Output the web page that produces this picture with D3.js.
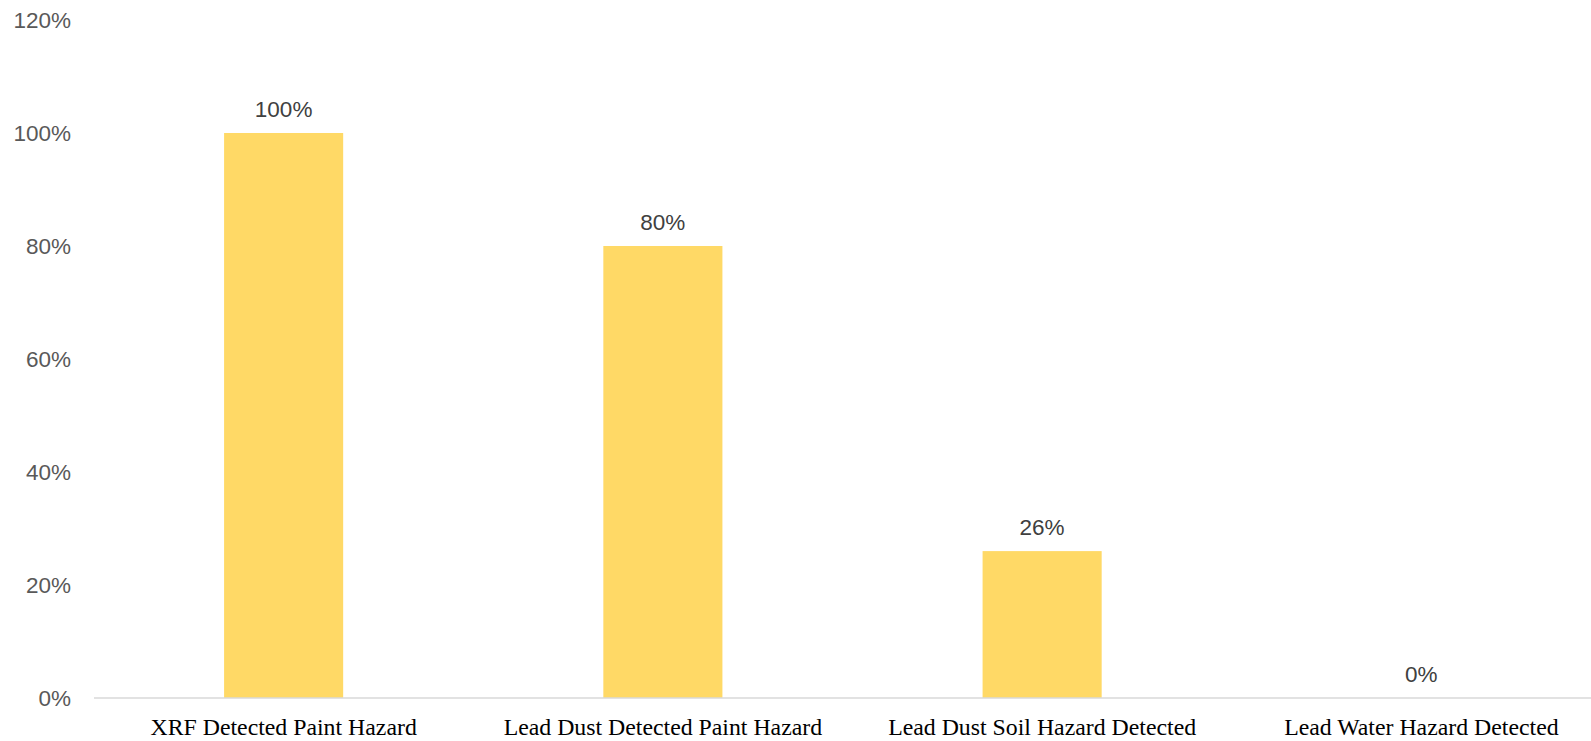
<!DOCTYPE html>
<html>
<head>
<meta charset="utf-8">
<script src="https://cdn.jsdelivr.net/npm/d3@7/dist/d3.min.js"></script>
<style>
  html, body { margin: 0; padding: 0; background: #fff; }
  svg { display: block; }
</style>
</head>
<body>
<svg id="chart" width="1591" height="741"></svg>
<script>
const categories = [
  "XRF Detected Paint Hazard",
  "Lead Dust Detected Paint Hazard",
  "Lead Dust Soil Hazard Detected",
  "Lead Water Hazard Detected"
];
const values = [1.00, 0.80, 0.26, 0.00];
const valueLabels = ["100%", "80%", "26%", "0%"];
const yTicks = [0, 0.2, 0.4, 0.6, 0.8, 1.0, 1.2];

const svg = d3.select("#chart");
const W = 1591, H = 741;

const x = d3.scaleBand()
  .domain(categories)
  .range([94, 1611])
  .paddingInner(0.686)
  .paddingOuter(0.343);

const y = d3.scaleLinear().domain([0, 1.2]).range([698, 20]);

// y tick labels
const yAxis = d3.axisLeft(y)
  .tickValues(yTicks)
  .tickFormat(d3.format(".0%"))
  .tickSize(0)
  .tickPadding(0);
const yg = svg.append("g").attr("transform", "translate(71,0)").call(yAxis);
yg.select(".domain").remove();
yg.selectAll("text")
  .attr("fill", "#595959")
  .attr("font-family", "'Liberation Sans', Arial, sans-serif")
  .attr("font-size", "22.5px")
  .attr("dy", "0.35em");

// bars
svg.append("g").selectAll("rect")
  .data(values)
  .join("rect")
  .attr("x", (d, i) => x(categories[i]))
  .attr("width", x.bandwidth())
  .attr("y", d => y(d))
  .attr("height", d => y(0) - y(d))
  .attr("fill", "#FFD966");

// x axis line
svg.append("line")
  .attr("x1", 94).attr("x2", W)
  .attr("y1", y(0)).attr("y2", y(0))
  .attr("stroke", "#D9D9D9")
  .attr("stroke-width", 1.5);

// category labels
const xAxis = d3.axisBottom(x).tickSize(0).tickPadding(0);
const xg = svg.append("g").attr("transform", `translate(0,${y(0)})`).call(xAxis);
xg.select(".domain").remove();
xg.selectAll("text")
  .attr("fill", "#000")
  .attr("font-family", "'Liberation Serif', 'Times New Roman', serif")
  .attr("font-size", "23.8px")
  .attr("y", 37)
  .attr("dy", 0);

// data labels
svg.append("g").selectAll("text")
  .data(values)
  .join("text")
  .attr("x", (d, i) => x(categories[i]) + x.bandwidth() / 2)
  .attr("y", d => y(d) - 16)
  .attr("text-anchor", "middle")
  .attr("fill", "#404040")
  .attr("font-family", "'Liberation Sans', Arial, sans-serif")
  .attr("font-size", "22.5px")
  .text((d, i) => valueLabels[i]);
</script>
</body>
</html>
